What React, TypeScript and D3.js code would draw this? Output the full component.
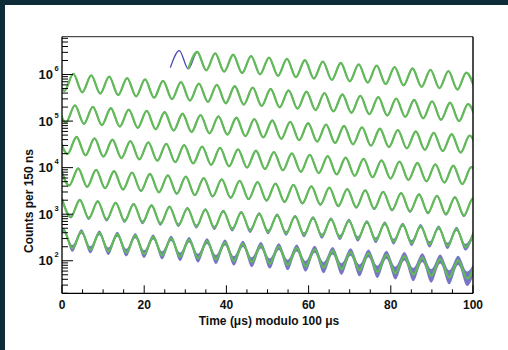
import React, { useRef, useEffect } from "react";
import * as d3 from "d3";

// extrema (peak / trough) of the wiggle, row by row
// each row is one 100 us slice; successive extrema are half a g-2 period apart
const HALF_PERIOD = 2.1825; // us
const FIT_START = 30.7; // us, fit starts in the first slice here

const rowStarts = [26.36, -1.615, -1.22, -0.825, -0.43, -0.035, -1.82];

const row1 = [
  1.41e6, 3.26e6, 1.32e6, 3.05e6, 1.23e6, 2.85e6, 1.15e6, 2.66e6, 1.08e6,
  2.49e6, 1.01e6, 2.32e6, 9.4e5, 2.17e6, 8.78e5, 2.03e6, 8.21e5, 1.9e6, 7.67e5,
  1.77e6, 7.17e5, 1.66e6, 6.7e5, 1.55e6, 6.26e5, 1.45e6, 5.85e5, 1.35e6,
  5.46e5, 1.26e6, 5.11e5, 1.18e6, 4.77e5, 1.1e6, 4.46e5,
];
const row2 = [
  1.1e6, 4.46e5, 1.03e6, 4.17e5, 9.63e5, 3.89e5, 9.0e5, 3.64e5, 8.41e5, 3.4e5,
  7.86e5, 3.18e5, 7.34e5, 2.97e5, 6.86e5, 2.77e5, 6.41e5, 2.59e5, 5.99e5,
  2.42e5, 5.6e5, 2.26e5, 5.23e5, 2.12e5, 4.89e5, 1.98e5, 4.57e5, 1.85e5,
  4.27e5, 1.73e5, 3.99e5, 1.61e5, 3.73e5, 1.51e5, 3.48e5, 1.41e5, 3.26e5,
  1.32e5, 3.04e5, 1.23e5, 2.84e5, 1.15e5, 2.66e5, 1.07e5, 2.48e5, 1.0e5,
  2.32e5, 9.38e4,
];
const row3 = [
  2.32e5, 9.38e4, 2.17e5, 8.77e4, 2.03e5, 8.19e4, 1.89e5, 7.66e4, 1.77e5,
  7.16e4, 1.65e5, 6.69e4, 1.55e5, 6.25e4, 1.44e5, 5.84e4, 1.35e5, 5.46e4,
  1.26e5, 5.1e4, 1.18e5, 4.76e4, 1.1e5, 4.45e4, 1.03e5, 4.16e4, 9.61e4, 3.89e4,
  8.98e4, 3.63e4, 8.39e4, 3.39e4, 7.84e4, 3.17e4, 7.33e4, 2.96e4, 6.85e4,
  2.77e4, 6.4e4, 2.59e4, 5.98e4, 2.42e4, 5.59e4, 2.26e4, 5.22e4, 2.11e4,
  4.88e4, 1.97e4,
];
const row4 = [
  4.88e4, 1.97e4, 4.56e4, 1.84e4, 4.26e4, 1.72e4, 3.98e4, 1.61e4, 3.72e4,
  1.5e4, 3.48e4, 1.41e4, 3.25e4, 1.31e4, 3.04e4, 1.23e4, 2.84e4, 1.15e4,
  2.65e4, 1.07e4, 2.48e4, 1.0e4, 2.31e4, 9.36e3, 2.16e4, 8.75e3, 2.02e4,
  8.17e3, 1.89e4, 7.64e3, 1.77e4, 7.14e3, 1.65e4, 6.67e3, 1.54e4, 6.23e3,
  1.44e4, 5.82e3, 1.35e4, 5.44e3, 1.26e4, 5.09e3, 1.18e4, 4.75e3, 1.1e4,
  4.44e3, 1.03e4, 4.15e3,
];
const row5 = [
  1.03e4, 4.15e3, 9.59e3, 3.88e3, 8.96e3, 3.62e3, 8.37e3, 3.39e3, 7.83e3,
  3.17e3, 7.31e3, 2.96e3, 6.83e3, 2.76e3, 6.39e3, 2.58e3, 5.97e3, 2.41e3,
  5.58e3, 2.26e3, 5.21e3, 2.11e3, 4.87e3, 1.97e3, 4.55e3, 1.84e3, 4.25e3,
  1.72e3, 3.97e3, 1.61e3, 3.71e3, 1.5e3, 3.47e3, 1.4e3, 3.24e3, 1.31e3, 3.03e3,
  1.23e3, 2.83e3, 1.15e3, 2.65e3, 1.07e3, 2.47e3, 1.0e3, 2.31e3, 934, 2.16e3,
  873,
];
const row6 = [
  2.16e3, 873, 2.02e3, 816, 1.89e3, 762, 1.76e3, 712, 1.65e3, 666, 1.54e3, 622,
  1.44e3, 581, 1.34e3, 543, 1.26e3, 508, 1.17e3, 474, 1.1e3, 443, 1.02e3, 414,
  957, 387, 894, 362, 836, 338, 781, 316, 730, 295, 682, 276, 637, 258, 595,
  241, 556, 225, 520, 210, 486, 196, 454,
];
const row7 = [
  196, 454, 184, 424, 172, 396, 160, 371, 150, 346, 140, 324, 131, 302, 122,
  283, 114, 264, 107, 247, 99.8, 231, 93.2, 215, 87.1, 201, 81.4, 188, 76.1,
  176, 71.1, 164, 66.5, 154, 62.1, 144, 58.0, 134, 54.2, 125, 50.7, 117, 47.4,
  109, 44.2, 102, 41.3, 95.5,
];
const rows = [row1, row2, row3, row4, row5, row6, row7];

const xTickLabels = [0, 20, 40, 60, 80, 100];
const yDecades = [2, 3, 4, 5, 6];

const W = 508;
const H = 350;
const frame = { left: 62, right: 473, top: 36.7, bottom: 293.3 };
const FONT = "Liberation Sans, Arial, Helvetica, sans-serif";
const GREEN = "#63ba58";
const BLUE = "#4848b2";

export default function App() {
  const svgRef = useRef(null);

  useEffect(() => {
    const svg = d3.select(svgRef.current);
    svg.selectAll("*").remove();

    const x = d3.scaleLinear().domain([0, 100]).range([frame.left, frame.right]);
    const y = d3
      .scaleLog()
      .domain([20, 6.5e6])
      .range([frame.bottom, frame.top]);

    // background
    svg.append("rect").attr("width", W).attr("height", H).attr("fill", "#0d2c38");
    svg
      .append("rect")
      .attr("x", 5)
      .attr("y", 5)
      .attr("width", W - 5)
      .attr("height", H - 5)
      .attr("fill", "#fff");

    svg
      .append("defs")
      .append("clipPath")
      .attr("id", "plot-clip")
      .append("rect")
      .attr("x", frame.left)
      .attr("y", frame.top)
      .attr("width", frame.right - frame.left)
      .attr("height", frame.bottom - frame.top);

    const plot = svg.append("g").attr("clip-path", "url(#plot-clip)");

    const series = rows.map((vals, r) =>
      vals.map((v, i) => ({ t: rowStarts[r] + i * HALF_PERIOD, v }))
    );

    // poisson spread of the measured histogram (blue)
    const band = d3
      .area()
      .x((d) => x(d.t))
      .y0((d) => y(d.v * Math.pow(10, -1.0 / Math.sqrt(d.v))))
      .y1((d) => y(d.v * Math.pow(10, 1.0 / Math.sqrt(d.v))))
      .curve(d3.curveMonotoneX);

    const line = d3
      .line()
      .x((d) => x(d.t))
      .y((d) => y(d.v))
      .curve(d3.curveMonotoneX);

    series.forEach((pts, r) => {
      if (r > 3) {
        plot
          .append("path")
          .attr("d", band(pts))
          .attr("fill", BLUE)
          .attr("fill-opacity", 0.75);
      }
      plot
        .append("path")
        .attr("d", line(pts))
        .attr("fill", "none")
        .attr("stroke", BLUE)
        .attr("stroke-width", 1.3);
    });

    series.forEach((pts, r) => {
      const fitPts = r === 0 ? pts.filter((d) => d.t >= FIT_START) : pts;
      plot
        .append("path")
        .attr("d", line(fitPts))
        .attr("fill", "none")
        .attr("stroke", GREEN)
        .attr("stroke-width", 2.3)
        .attr("stroke-linejoin", "round");
    });

    // frame
    svg
      .append("line")
      .attr("x1", frame.left)
      .attr("x2", frame.right)
      .attr("y1", frame.top)
      .attr("y2", frame.top)
      .attr("stroke", "#222")
      .attr("stroke-width", 1);
    svg
      .append("line")
      .attr("x1", frame.right)
      .attr("x2", frame.right)
      .attr("y1", frame.top)
      .attr("y2", frame.bottom)
      .attr("stroke", "#111")
      .attr("stroke-width", 1.5);
    svg
      .append("line")
      .attr("x1", frame.left)
      .attr("x2", frame.left)
      .attr("y1", frame.top)
      .attr("y2", frame.bottom)
      .attr("stroke", "#000")
      .attr("stroke-width", 1.3);
    svg
      .append("line")
      .attr("x1", frame.left)
      .attr("x2", frame.right)
      .attr("y1", frame.bottom)
      .attr("y2", frame.bottom)
      .attr("stroke", "#000")
      .attr("stroke-width", 1.3);

    // x ticks
    const xg = svg.append("g");
    x.ticks(20).forEach((t) => {
      const major = xTickLabels.includes(t);
      xg.append("line")
        .attr("x1", x(t))
        .attr("x2", x(t))
        .attr("y1", frame.bottom)
        .attr("y2", frame.bottom - (major ? 8 : 4))
        .attr("stroke", "#000")
        .attr("stroke-width", 1);
    });
    xTickLabels.forEach((t) => {
      xg.append("text")
        .attr("x", x(t))
        .attr("y", frame.bottom + 15.5)
        .attr("text-anchor", "middle")
        .attr("font-family", FONT)
        .attr("font-weight", "bold")
        .attr("font-size", 12)
        .attr("fill", "#111")
        .text(t);
    });

    // y ticks
    const yg = svg.append("g");
    y.ticks().forEach((v) => {
      const major = yDecades.some((e) => Math.abs(v - Math.pow(10, e)) < 1e-6 * v);
      yg.append("line")
        .attr("x1", frame.left)
        .attr("x2", frame.left + (major ? 11 : 6))
        .attr("y1", y(v))
        .attr("y2", y(v))
        .attr("stroke", "#000")
        .attr("stroke-width", 1);
    });
    yDecades.forEach((e) => {
      const yy = y(Math.pow(10, e));
      yg.append("text")
        .attr("x", 53)
        .attr("y", yy + 4.6)
        .attr("text-anchor", "end")
        .attr("font-family", FONT)
        .attr("font-weight", "bold")
        .attr("font-size", 13)
        .attr("fill", "#111")
        .text("10");
      yg.append("text")
        .attr("x", 54.5)
        .attr("y", yy - 3.5)
        .attr("font-family", FONT)
        .attr("font-weight", "bold")
        .attr("font-size", 7.5)
        .attr("fill", "#111")
        .text(e);
    });

    // axis titles
    svg
      .append("text")
      .attr("transform", `translate(33,${(frame.top + frame.bottom) / 2 + 36}) rotate(-90)`)
      .attr("text-anchor", "middle")
      .attr("font-family", FONT)
      .attr("font-weight", "bold")
      .attr("font-size", 12)
      .attr("fill", "#111")
      .text("Counts per 150 ns");

    svg
      .append("text")
      .attr("x", 269)
      .attr("y", 325)
      .attr("text-anchor", "middle")
      .attr("font-family", FONT)
      .attr("font-weight", "bold")
      .attr("font-size", 12)
      .attr("fill", "#111")
      .text("Time (μs) modulo 100 μs");
  }, []);

  return (
    <svg
      ref={svgRef}
      width={W}
      height={H}
      style={{ position: "absolute", left: 0, top: 0 }}
    />
  );
}
